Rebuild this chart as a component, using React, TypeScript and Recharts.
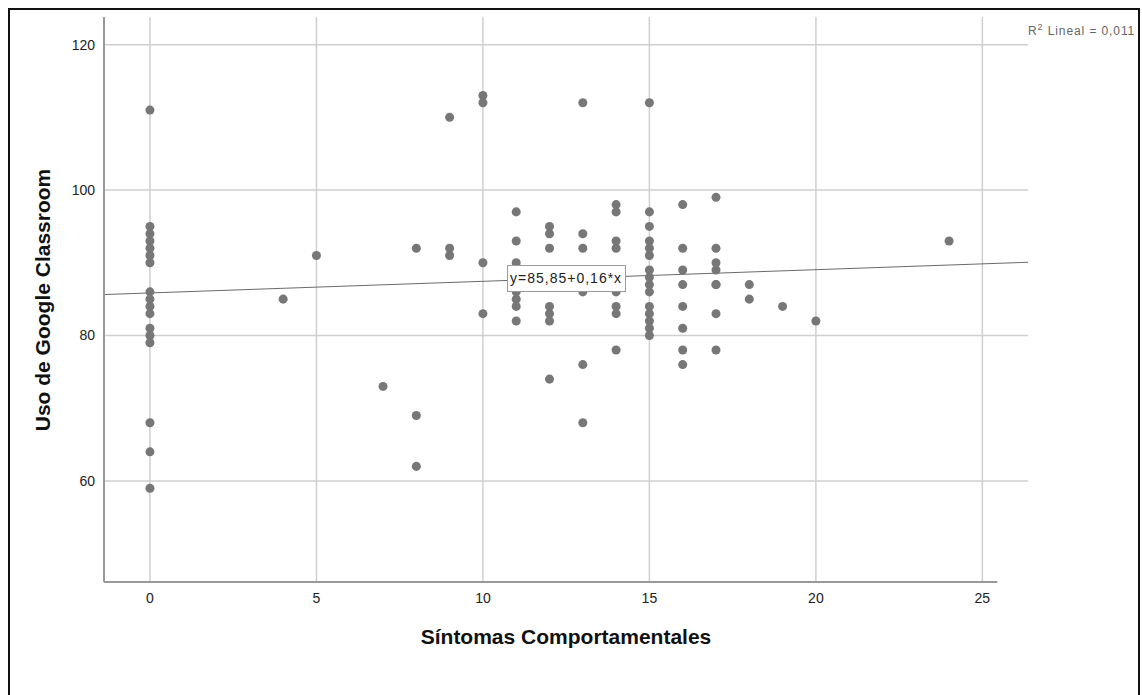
import React from "react";
import {
  ScatterChart,
  Scatter,
  XAxis,
  YAxis,
  ZAxis,
  CartesianGrid,
  ReferenceLine,
} from "recharts";

// Síntomas Comportamentales (x) / Uso de Google Classroom (y)
const sintomas = [
  0, 0, 0, 0, 0, 0, 0, 0, 0, 0, 0, 0, 0, 0, 0, 0, 0,
  4, 5, 7,
  8, 8, 8,
  9, 9, 9,
  10, 10, 10, 10,
  11, 11, 11, 11, 11, 11, 11,
  12, 12, 12, 12, 12, 12, 12,
  13, 13, 13, 13, 13, 13,
  14, 14, 14, 14, 14, 14, 14, 14,
  15, 15, 15, 15, 15, 15, 15, 15, 15, 15, 15, 15, 15, 15, 15,
  16, 16, 16, 16, 16, 16, 16, 16,
  17, 17, 17, 17, 17, 17, 17, 17,
  18, 18, 19, 20, 24,
];
const usoClassroom = [
  111, 95, 94, 93, 92, 91, 90, 86, 85, 84, 83, 81, 80, 79, 68, 64, 59,
  85, 91, 73,
  92, 69, 62,
  110, 92, 91,
  113, 112, 90, 83,
  97, 93, 90, 86, 85, 84, 82,
  95, 94, 92, 84, 83, 82, 74,
  112, 94, 92, 86, 76, 68,
  98, 97, 93, 92, 86, 84, 83, 78,
  112, 97, 95, 93, 92, 91, 89, 88, 87, 86, 84, 83, 82, 81, 80,
  98, 92, 89, 87, 84, 81, 78, 76,
  99, 92, 90, 89, 87, 87, 83, 78,
  87, 85, 84, 82, 93,
];

const xTicks = [0, 5, 10, 15, 20, 25];
const yTicks = [60, 80, 100, 120];

const X_MIN = -1.38;
const X_MAX = 26.37;
const X_AXIS_END = 25.45;
const Y_MIN = 46.1;
const Y_MAX = 123.8;

// linear fit shown on the chart
const INTERCEPT = 85.85;
const SLOPE = 0.16;
const R2 = "0,011";

const points = sintomas.map((x, i) => ({ x, y: usoClassroom[i] }));

const FONT = "'Liberation Sans', Arial, sans-serif";

export default function App() {
  return (
    <div
      style={{
        position: "absolute",
        left: 0,
        top: 0,
        width: 1142,
        height: 695,
        overflow: "hidden",
        background: "#fff",
        fontFamily: FONT,
      }}
    >
      <div
        style={{
          position: "absolute",
          left: 8,
          top: 8,
          width: 1132,
          height: 720,
          border: "2px solid #111",
          boxSizing: "border-box",
        }}
      />
      <div style={{ position: "absolute", left: 0, top: 0 }}>
        <ScatterChart
          width={1142}
          height={695}
          margin={{ top: 17, right: 114, bottom: 83, left: 44 }}
        >
          <CartesianGrid
            stroke="#cfcfcf"
            strokeWidth={1.5}
            horizontalValues={yTicks}
            verticalValues={xTicks}
          />
          <XAxis
            type="number"
            dataKey="x"
            domain={[X_MIN, X_MAX]}
            ticks={xTicks}
            height={30}
            axisLine={false}
            tickLine={false}
            tickMargin={5}
            tick={{ fill: "#222", fontSize: 14, fontFamily: FONT }}
          />
          <YAxis
            type="number"
            dataKey="y"
            domain={[Y_MIN, Y_MAX]}
            ticks={yTicks}
            width={60}
            axisLine={{ stroke: "#999", strokeWidth: 2 }}
            tickLine={false}
            tickMargin={3}
            tick={{ fill: "#222", fontSize: 14, fontFamily: FONT }}
          />
          <ZAxis range={[78, 78]} />
          <ReferenceLine
            segment={[
              { x: X_MIN, y: Y_MIN },
              { x: X_AXIS_END, y: Y_MIN },
            ]}
            stroke="#999"
            strokeWidth={2}
            ifOverflow="visible"
          />
          <ReferenceLine
            segment={[
              { x: X_MIN, y: INTERCEPT + SLOPE * X_MIN },
              { x: X_MAX, y: INTERCEPT + SLOPE * X_MAX },
            ]}
            stroke="#6a6a6a"
            strokeWidth={1}
          />
          <Scatter
            data={points}
            fill="#777"
            shape="circle"
            isAnimationActive={false}
          />
        </ScatterChart>
      </div>

      {/* fit equation label */}
      <div
        style={{
          position: "absolute",
          left: 507,
          top: 265,
          width: 119,
          height: 27,
          boxSizing: "border-box",
          border: "1px solid #9a9a9a",
          background: "#fff",
          fontSize: 14,
          letterSpacing: 1,
          color: "#222",
          lineHeight: "25px",
          paddingLeft: 2,
          whiteSpace: "nowrap",
        }}
      >
        y={INTERCEPT.toFixed(2).replace(".", ",")}+{SLOPE.toFixed(2).replace(".", ",")}*x
      </div>

      <div
        style={{
          position: "absolute",
          left: 1028,
          top: 22,
          fontSize: 12,
          letterSpacing: 0.9,
          color: "#666",
          whiteSpace: "nowrap",
        }}
      >
        R<sup style={{ fontSize: 9 }}>2</sup> Lineal = {R2}
      </div>

      <div
        style={{
          position: "absolute",
          left: 566,
          top: 637,
          transform: "translate(-50%, -50%)",
          fontSize: 21,
          fontWeight: "bold",
          color: "#111",
          whiteSpace: "nowrap",
        }}
      >
        Síntomas Comportamentales
      </div>
      <div
        style={{
          position: "absolute",
          left: 43,
          top: 300,
          transform: "translate(-50%, -50%) rotate(-90deg)",
          fontSize: 21,
          fontWeight: "bold",
          color: "#111",
          whiteSpace: "nowrap",
        }}
      >
        Uso de Google Classroom
      </div>
    </div>
  );
}
